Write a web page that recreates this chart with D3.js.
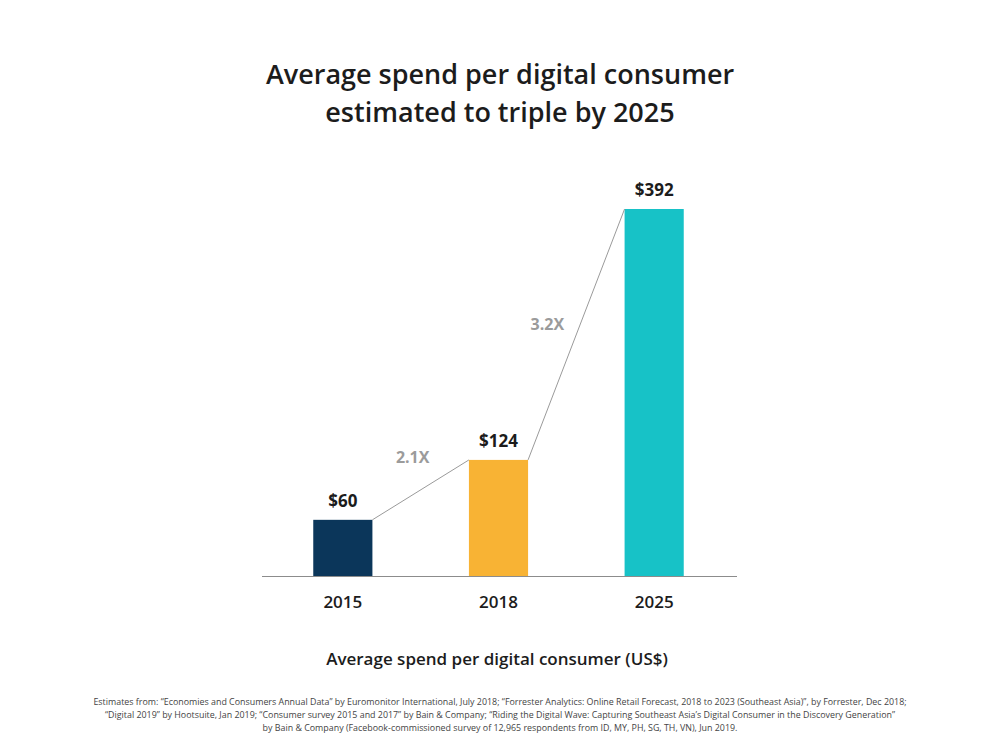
<!DOCTYPE html>
<html lang="en">
<head>
<meta charset="UTF-8">
<title>Average spend per digital consumer</title>
<script src="https://cdn.jsdelivr.net/npm/d3@7"></script>
<style>
  body { margin: 0; background: #fff; }
  text { font-family: "Open Sans", "Noto Sans", sans-serif; }
</style>
</head>
<body>
<script>
    // data
    var years = ["2015", "2018", "2025"];
    var spend = [60, 124, 392];
    var valueLabels = ["$60", "$124", "$392"];
    var multipliers = ["2.1X", "3.2X"];
    var barColors = ["#0b365a", "#f8b334", "#17c2c7"];
    var titleLines = ["Average spend per digital consumer", "estimated to triple by 2025"];
    var axisTitle = "Average spend per digital consumer (US$)";
    var notes = [
        "Estimates from: \u201cEconomies and Consumers Annual Data\u201d by Euromonitor International, July 2018; \u201cForrester Analytics: Online Retail Forecast, 2018 to 2023 (Southeast Asia)\u201d, by Forrester, Dec 2018;",
        "\u201cDigital 2019\u201d by Hootsuite, Jan 2019; \u201cConsumer survey 2015 and 2017\u201d by Bain & Company; \u201cRiding the Digital Wave: Capturing Southeast Asia\u2019s Digital Consumer in the Discovery Generation\u201d",
        "by Bain & Company (Facebook-commissioned survey of 12,965 respondents from ID, MY, PH, SG, TH, VN), Jun 2019."
    ];

    var width = 1000, height = 750;
    var baseY = 576;
    // where each multiplier label sits relative to its connector midpoint
    var multOffsets = [[-8, -27], [-29, -4]];

    var svg = d3.select("body").append("svg")
        .attr("width", width)
        .attr("height", height);

    // title
    svg.append("g").selectAll("text")
        .data(titleLines)
        .enter().append("text")
        .attr("x", 500)
        .attr("y", function (d, i) { return 84 + i * 38; })
        .attr("text-anchor", "middle")
        .attr("font-size", "27px")
        .attr("font-weight", 600)
        .attr("fill", "#1c1c1c")
        .text(function (d) { return d; });

    // scales
    var x = d3.scaleBand()
        .domain(years)
        .range([265, 732])
        .paddingInner(0.62)
        .paddingOuter(0.31);

    var y = d3.scaleLinear()
        .domain([0, 392])
        .range([baseY, 209]);

    // bars
    svg.selectAll(".bar")
        .data(spend)
        .enter().append("rect")
        .attr("class", "bar")
        .attr("x", function (d, i) { return x(years[i]); })
        .attr("y", function (d) { return y(d); })
        .attr("width", x.bandwidth())
        .attr("height", function (d) { return baseY - y(d); })
        .attr("fill", function (d, i) { return barColors[i]; });

    // growth connectors: top-right of one bar to top-left of the next
    var pairs = d3.range(spend.length - 1);
    svg.selectAll(".link")
        .data(pairs)
        .enter().append("line")
        .attr("x1", function (i) { return x(years[i]) + x.bandwidth(); })
        .attr("y1", function (i) { return y(spend[i]); })
        .attr("x2", function (i) { return x(years[i + 1]); })
        .attr("y2", function (i) { return y(spend[i + 1]); })
        .attr("stroke", "#9a9a9a")
        .attr("stroke-width", 1);

    // multiplier labels
    svg.selectAll(".mult")
        .data(pairs)
        .enter().append("text")
        .attr("x", function (i) {
            var mx = (x(years[i]) + x.bandwidth() + x(years[i + 1])) / 2;
            return mx + multOffsets[i][0];
        })
        .attr("y", function (i) {
            var my = (y(spend[i]) + y(spend[i + 1])) / 2;
            return my + multOffsets[i][1];
        })
        .attr("text-anchor", "middle")
        .attr("font-size", "16px")
        .attr("font-weight", 700)
        .attr("fill", "#9b9b9b")
        .text(function (i) { return multipliers[i]; });

    // value labels
    svg.selectAll(".val")
        .data(spend)
        .enter().append("text")
        .attr("x", function (d, i) { return x(years[i]) + x.bandwidth() / 2; })
        .attr("y", function (d) { return y(d) - 13; })
        .attr("text-anchor", "middle")
        .attr("font-size", "17px")
        .attr("font-weight", 700)
        .attr("fill", "#1c1c1c")
        .text(function (d, i) { return valueLabels[i]; });

    // baseline
    svg.append("line")
        .attr("x1", 262).attr("x2", 737)
        .attr("y1", baseY + 0.5).attr("y2", baseY + 0.5)
        .attr("stroke", "#8c8c8c")
        .attr("stroke-width", 1);

    // x axis labels
    var xAxis = d3.axisBottom(x).tickSize(0).tickPadding(20);
    var gx = svg.append("g")
        .attr("transform", "translate(0," + baseY + ")")
        .call(xAxis);
    gx.select(".domain").remove();
    gx.selectAll("text")
        .attr("font-family", "'Open Sans', sans-serif")
        .attr("font-size", "17px")
        .attr("font-weight", 600)
        .attr("fill", "#1c1c1c");

    // axis title
    svg.append("text")
        .attr("x", 497)
        .attr("y", 665)
        .attr("text-anchor", "middle")
        .attr("font-size", "17px")
        .attr("font-weight", 600)
        .attr("fill", "#1c1c1c")
        .text(axisTitle);

    // footnote
    svg.append("g").selectAll("text")
        .data(notes)
        .enter().append("text")
        .attr("x", 500)
        .attr("y", function (d, i) { return 705 + i * 13; })
        .attr("text-anchor", "middle")
        .attr("font-size", "8.9px")
        .attr("fill", "#444")
        .text(function (d) { return d; });
</script>
</body>
</html>
